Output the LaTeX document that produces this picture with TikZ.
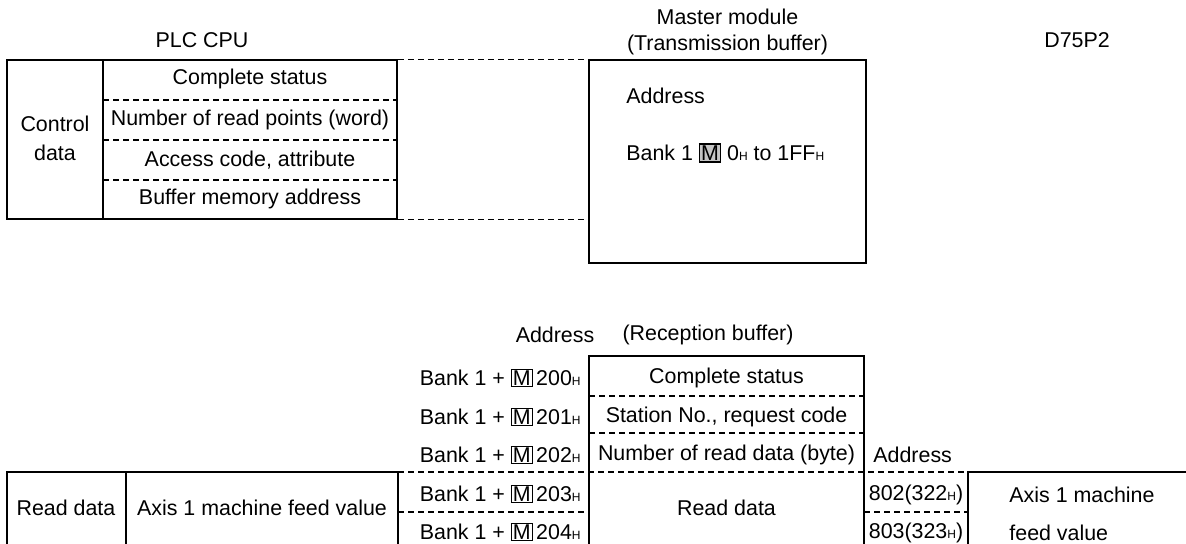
\documentclass[tikz,border=0pt]{standalone}
\usepackage{fontspec}
\setmainfont{Liberation Sans}
\newcommand{\hx}{{\fontsize{6}{7}\selectfont H}}
\newcommand{\mk}{{\setlength{\fboxsep}{0.5pt}\setlength{\fboxrule}{0.5pt}\fbox{M}}}
\newcommand{\mkg}{{\setlength{\fboxsep}{0.5pt}\setlength{\fboxrule}{0.6pt}\fcolorbox{black}{gray!45}{M}}}
\tikzset{
  solidline/.style={line width=0.75pt},
  dsh/.style={line width=0.7pt, dash pattern=on 3pt off 2pt},
  txt/.style={inner sep=0pt, font=\fontsize{10.7}{13}\selectfont},
  boxn/.style={draw, line width=0.75pt, inner sep=0pt}
}
\begin{document}
\begin{tikzpicture}[x=0.5pt,y=-0.5pt]
\useasboundingbox (0,0) rectangle (1186,544);
% ---------- top part ----------
\node[boxn, minimum width=195pt, minimum height=79.5pt] (plc) at (202,139.5) {};
\node[boxn, minimum width=138.5pt, minimum height=101.5pt] (tx) at (727.5,161.5) {};
\coordinate (pdiv) at (103,60);
\draw[solidline] (pdiv) -- (pdiv |- plc.south);
\foreach \yy in {100,140,180} \draw[dsh] (103,\yy) -- (397,\yy);
\draw[dsh] (plc.north east) -- (tx.north west);
\draw[dsh] (plc.south east) -- (plc.south east -| tx.west);

\node[txt] (plccpu) at (202,40) {PLC CPU};
\node[txt] (mm1) at (727.5,17) {Master module};
\node[txt] (mm2) at (727.5,45) {(Transmission buffer)};
\node[txt] (d75) at (1077,40) {D75P2};
\node[txt, align=center] (ctl) at (55,138) {Control\\[1.5pt]data};
\node[txt] (r1) at (250,79) {Complete status};
\node[txt] (r2) at (250,120) {Number of read points (word)};
\node[txt] (r3) at (250,160) {Access code, attribute};
\node[txt] (r4) at (250,199) {Buffer memory address};
\node[txt, anchor=west] (txa) at (626,96) {Address};
\node[txt, anchor=west] (txb) at (626,153) {Bank 1 \mkg{} 0\hx{} to 1FF\hx};

% ---------- bottom part ----------
\coordinate (rxbl) at (589,544);
\coordinate (rxtl) at (589,356);
\coordinate (rxtr) at (864,356);
\coordinate (rxbr) at (864,544);
\draw[solidline] (rxbl) -- (rxtl) -- (rxtr) -- (rxbr);
\draw[dsh] (589,396) -- (864,396);
\draw[dsh] (589,433) -- (864,433);

\coordinate (lbl) at (7,544);
\coordinate (ltl) at (7,472);
\coordinate (ltr) at (398,472);
\coordinate (lbr) at (398,544);
\draw[solidline] (lbl) -- (ltl) -- (ltr) -- (lbr);
\draw[solidline] (126,472) -- (126,544);

\coordinate (dbl) at (968,544);
\coordinate (dtl) at (968,472);
\coordinate (dtr) at (1186,472);
\draw[solidline] (dbl) -- (dtl) -- (dtr);

\draw[dsh] (ltr) -- (dtl);
\draw[dsh] (398,512) -- (589,512);
\draw[dsh] (864,512) -- (968,512);

\node[txt] (adr1) at (555,335) {Address};
\node[txt] (rxh) at (708,335) {(Reception buffer)};
\node[txt, anchor=east] (b0) at (581,378) {Bank 1 + \mk\,200\hx};
\node[txt, anchor=east] (b1) at (581,417) {Bank 1 + \mk\,201\hx};
\node[txt, anchor=east] (b2) at (581,455) {Bank 1 + \mk\,202\hx};
\node[txt, anchor=east] (b3) at (581,494) {Bank 1 + \mk\,203\hx};
\node[txt, anchor=east] (b4) at (581,532) {Bank 1 + \mk\,204\hx};
\node[txt] (x1) at (726.5,378) {Complete status};
\node[txt] (x2) at (726.5,417) {Station No., request code};
\node[txt] (x3) at (726.5,455) {Number of read data (byte)};
\node[txt] (x4) at (726.5,508) {Read data};
\node[txt] (rd) at (66,508) {Read data};
\node[txt] (ax) at (262,508) {Axis 1 machine feed value};
\node[txt, anchor=west] (adr2) at (873,455) {Address};
\node[txt] (a802) at (916,495) {802(322\hx)};
\node[txt] (a803) at (916,533) {803(323\hx)};
\node[txt, anchor=west] (dv1) at (1009,495) {Axis 1 machine};
\node[txt, anchor=west] (dv2) at (1009,533) {feed value};
\end{tikzpicture}
\end{document}
